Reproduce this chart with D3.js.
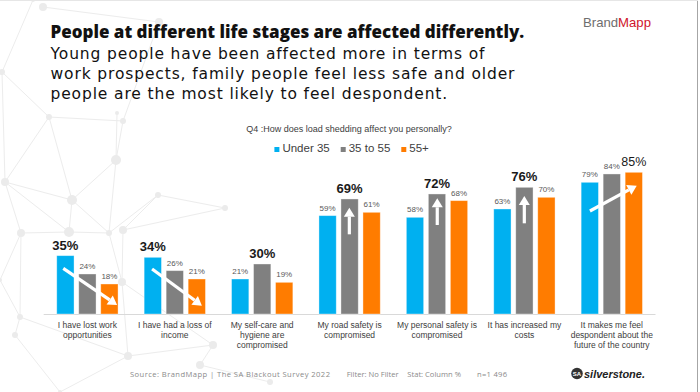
<!DOCTYPE html>
<html>
<head>
<meta charset="utf-8">
<script src="https://cdn.jsdelivr.net/npm/d3@7"></script>
<style>
  html, body { margin: 0; padding: 0; background: #fff; }
  svg { display: block; }
</style>
</head>
<body>
<svg id="chart" width="700" height="392"></svg>
<script>
// ---------------- DATA ----------------
const categories = [
  "I have lost work\nopportunities",
  "I have had a loss of\nincome",
  "My self-care and\nhygiene are\ncompromised",
  "My road safety is\ncompromised",
  "My personal safety is\ncompromised",
  "It has increased my\ncosts",
  "It makes me feel\ndespondent about the\nfuture of the country"
];
const seriesNames = ["Under 35", "35 to 55", "55+"];
const under35 = [35, 34, 21, 59, 58, 63, 79];
const age35to55 = [24, 26, 30, 69, 72, 76, 84];
const age55plus = [18, 21, 19, 61, 68, 70, 85];
// which series carries the emphasised (large) label in each category
const highlightSeries = ["Under 35", "Under 35", "35 to 55", "35 to 55", "35 to 55", "35 to 55", "55+"];
const highlightBold = [true, true, true, true, true, true, false];
// trend arrows: category index, start (fraction across group, value), end (fraction, value)
const arrowCats = [0, 1, 3, 4, 5, 6];
const arrowFrom = [[0.224, 27.4], [0.24, 27], [0.497, 47.8], [0.503, 53.4], [0.499, 54.4], [0.25, 61.8]];
const arrowTo   = [[0.84, 5.4], [0.81, 5], [0.497, 63.8], [0.503, 69.4], [0.499, 70.8], [0.785, 77]];

const titleText = "People at different life stages are affected differently.";
const subtitleLines = [
  "Young people have been affected more in terms of",
  "work prospects, family people feel less safe and older",
  "people are the most likely to feel despondent."
];
const questionText = "Q4 :How does load shedding affect you personally?";
const footerParts = ["Source: BrandMapp | The SA Blackout Survey 2022", "Filter: No Filter", "Stat: Column %", "n=1 496"];

// decorative background network
const netNodes = [[33,0],[43,7],[159,22],[2,72],[49,117],[117,113],[123,121],[116,160],[5,182],[72,200],
  [158,195],[225,208],[21,233],[69,232],[109,233],[123,230],[122,282],[20,317],[128,356],[213,345],
  [200,365],[270,382],[0,280],[60,392],[15,335]];
const netNodeR = [2,4,4,3,3,2,3,5,4,5,3,3,4,5,3,4,4,3,4,4,4,3,2,2,3];
const netEdges = [[1,2],[0,3],[3,4],[4,6],[4,9],[8,4],[6,7],[5,7],[7,9],[7,14],[8,9],[8,12],[8,13],[9,13],
  [9,14],[10,11],[10,14],[10,15],[12,13],[13,14],[12,17],[14,16],[16,18],[17,18],[18,19],[19,20],
  [20,21],[16,19],[2,6],[12,22],[22,17],[17,24],[24,23],[23,18],[15,16],[11,15],[3,8]];

const colors = { "Under 35": "#00b0f0", "35 to 55": "#808080", "55+": "#ff7c00" };
const seriesValues = { "Under 35": under35, "35 to 55": age35to55, "55+": age55plus };

// ---------------- DRAW ----------------
const svg = d3.select("#chart");

function fitText(sel, width) {
  const node = sel.node();
  const fs = parseFloat(sel.attr("font-size"));
  const w = node.getComputedTextLength();
  if (w > 0) sel.attr("font-size", (fs * width / w).toFixed(2));
  return sel;
}
function spreadText(sel, width) {
  const w = sel.node().getComputedTextLength();
  const n = sel.text().length;
  if (w < width && n > 1) sel.attr("letter-spacing", ((width - w) / (n - 1)).toFixed(3));
  return sel;
}

// background network
const net = svg.append("g");
net.selectAll("line").data(netEdges).join("line")
  .attr("x1", d => netNodes[d[0]][0]).attr("y1", d => netNodes[d[0]][1])
  .attr("x2", d => netNodes[d[1]][0]).attr("y2", d => netNodes[d[1]][1])
  .attr("stroke", "#ececec").attr("stroke-width", 1);
net.selectAll("circle").data(netNodes).join("circle")
  .attr("cx", d => d[0]).attr("cy", d => d[1]).attr("r", (d, i) => netNodeR[i])
  .attr("fill", "#ebebeb");

// frame
svg.append("line").attr("x1", 697.5).attr("x2", 697.5).attr("y1", 0).attr("y2", 392)
  .attr("stroke", "#a6a6a6").attr("stroke-width", 1);
svg.append("line").attr("x1", 0).attr("x2", 698).attr("y1", 0.5).attr("y2", 0.5)
  .attr("stroke", "#e6e6e6").attr("stroke-width", 1);

// title block
fitText(svg.append("text").attr("x", 50.5).attr("y", 38)
  .attr("font-family", "'Open Sans', sans-serif").attr("font-weight", 800)
  .attr("font-size", 17).attr("fill", "#111").text(titleText), 474);

const sub = svg.append("g").attr("font-family", "'DejaVu Sans', sans-serif").attr("fill", "#111");
const subFs = 15.5;
const probe = sub.append("text").attr("font-size", subFs).text(subtitleLines[1]);
const probeW = probe.node().getComputedTextLength();
probe.remove();
const subLS = Math.max(0, (464 - probeW) / (subtitleLines[1].length - 1));
sub.selectAll("text").data(subtitleLines).join("text")
  .attr("x", 50.5).attr("y", (d, i) => 59 + i * 20)
  .attr("font-size", subFs).attr("letter-spacing", subLS.toFixed(3)).text(d => d);

// BrandMapp logo text
const bm = svg.append("text").attr("x", 583).attr("y", 26.5)
  .attr("font-family", "'Liberation Sans', Arial, sans-serif").attr("font-size", 12.5);
bm.append("tspan").attr("fill", "#6e6e6e").text("Brand");
bm.append("tspan").attr("fill", "#d0142c").text("Mapp");
fitText(bm, 68);

// scales
const x0 = d3.scaleBand().domain(categories).range([43.7, 655.5]).padding(0);
const x1 = d3.scaleBand().domain(seriesNames).range([13.05, 74.35]).paddingInner(0.214).paddingOuter(0);
const y = d3.scaleLinear().domain([0, 100]).range([314, 147.3]);

// question + legend
svg.append("text").attr("x", 349).attr("y", 131.5).attr("text-anchor", "middle")
  .attr("font-family", "'Liberation Sans', Arial, sans-serif").attr("font-size", 9)
  .attr("fill", "#404040").text(questionText);

const legend = svg.append("g").attr("font-family", "'Liberation Sans', Arial, sans-serif")
  .attr("font-size", 11.5).attr("fill", "#404040");
let lx = 0;
seriesNames.forEach(s => {
  const g = legend.append("g").attr("transform", `translate(${lx},0)`);
  g.append("rect").attr("x", 0).attr("y", -4.5).attr("width", 5).attr("height", 5).attr("fill", colors[s]);
  const t = g.append("text").attr("x", 8).attr("y", 0).text(s);
  const w = t.node().getComputedTextLength();
  lx += 8 + w + 11;
});
const legW = lx - 11;
legend.attr("transform", `translate(${351.6 - legW / 2},151.5)`);

// axis baseline
svg.append("line").attr("x1", x0.range()[0]).attr("x2", x0.range()[1])
  .attr("y1", y(0) + 0.5).attr("y2", y(0) + 0.5).attr("stroke", "#d9d9d9").attr("stroke-width", 1);

// bars
const groups = svg.append("g").selectAll("g").data(categories).join("g")
  .attr("transform", d => `translate(${x0(d)},0)`);

groups.each(function(cat, ci) {
  const g = d3.select(this);
  seriesNames.forEach(s => {
    const v = seriesValues[s][ci];
    g.append("rect")
      .attr("x", x1(s)).attr("y", y(v))
      .attr("width", x1.bandwidth()).attr("height", y(0) - y(v))
      .attr("fill", colors[s]).attr("stroke", "#ffffff").attr("stroke-opacity", 0.45).attr("stroke-width", 0.8);
    const hl = highlightSeries[ci] === s;
    g.append("text")
      .attr("x", x1(s) + x1.bandwidth() / 2)
      .attr("y", y(v) - (hl ? 6 : 5))
      .attr("text-anchor", "middle")
      .attr("font-family", "'Liberation Sans', Arial, sans-serif")
      .attr("font-size", hl ? (highlightBold[ci] ? 13 : 12.5) : 8)
      .attr("font-weight", hl && highlightBold[ci] ? "bold" : "normal")
      .attr("fill", hl ? "#1a1a1a" : "#595959")
      .text(v + "%");
  });
  // category label
  const lines = cat.split("\n");
  const t = g.append("text").attr("text-anchor", "middle")
    .attr("font-family", "'Liberation Sans', Arial, sans-serif").attr("font-size", 8.5)
    .attr("fill", "#404040");
  lines.forEach((ln, li) => {
    t.append("tspan").attr("x", x0.bandwidth() / 2).attr("y", 328.3 + li * 10).text(ln);
  });
});

// arrows
const arrowG = svg.append("g");
arrowCats.forEach((ci, k) => {
  const cat = categories[ci];
  const bx = x0(cat), bw = x0.bandwidth();
  const xa = bx + arrowFrom[k][0] * bw, ya = y(arrowFrom[k][1]);
  const xb = bx + arrowTo[k][0] * bw, yb = y(arrowTo[k][1]);
  const ang = Math.atan2(yb - ya, xb - xa);
  const headL = 9, headW = 5.5;
  const bxBase = xb - headL * Math.cos(ang), byBase = yb - headL * Math.sin(ang);
  arrowG.append("line").attr("x1", xa).attr("y1", ya).attr("x2", bxBase).attr("y2", byBase)
    .attr("stroke", "#fff").attr("stroke-width", 3.2);
  const px = -Math.sin(ang), py = Math.cos(ang);
  arrowG.append("path")
    .attr("d", `M${xb},${yb}L${bxBase + px * headW},${byBase + py * headW}L${bxBase - px * headW},${byBase - py * headW}Z`)
    .attr("fill", "#fff");
});

// footer
const foot = svg.append("g").attr("font-family", "'Open Sans', sans-serif").attr("fill", "#8a8a8a");
const fStarts = [130, 346.7, 407.3, 477];
const fWidths = [200, 45, 50, 30];
footerParts.forEach((p, i) => {
  spreadText(foot.append("text").attr("x", fStarts[i]).attr("y", 377).attr("font-size", 7.6).text(p), fWidths[i]);
});

// silverstone logo
svg.append("circle").attr("cx", 577).attr("cy", 373.5).attr("r", 5.8).attr("fill", "#333");
svg.append("text").attr("x", 577).attr("y", 375.8).attr("text-anchor", "middle")
  .attr("font-family", "'Liberation Sans', Arial, sans-serif").attr("font-size", 6).attr("font-weight", "bold")
  .attr("fill", "#fff").text("SA");
fitText(svg.append("text").attr("x", 584).attr("y", 378)
  .attr("font-family", "'Liberation Sans Narrow', 'Liberation Sans', Arial, sans-serif")
  .attr("font-style", "italic").attr("font-weight", "bold").attr("font-size", 13)
  .attr("fill", "#222").text("silverstone."), 61);
</script>
</body>
</html>
